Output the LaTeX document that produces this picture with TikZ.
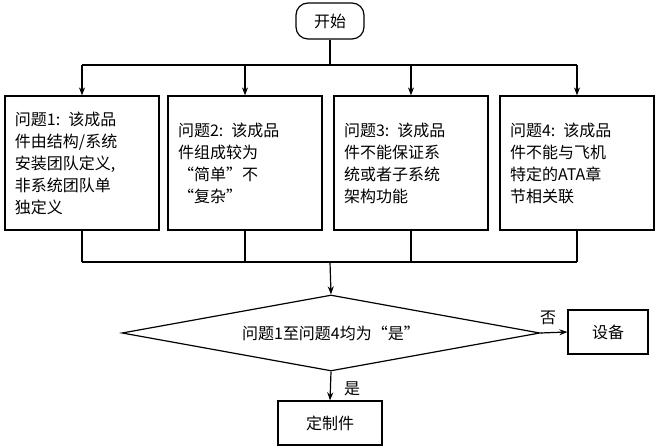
\documentclass[tikz,border=0pt]{standalone}
\usepackage{fontspec}
\setmainfont{Noto Sans CJK SC}
\usetikzlibrary{arrows.meta,shapes.geometric,positioning}

\begin{document}
\begin{tikzpicture}[
    x=0.5pt, y=-0.5pt,
    box/.style={rectangle, draw, semithick, minimum width=77pt, minimum height=67pt, align=left, font=\fontsize{8}{11}\selectfont, text width=67pt},
    smallbox/.style={rectangle, draw, semithick, minimum width=40pt, minimum height=22pt, font=\fontsize{8}{10}\selectfont},
    arrow/.style={-{Stealth[length=4pt,width=3pt]}, semithick},
    label/.style={font=\fontsize{8}{10}\selectfont}
]
    \useasboundingbox (0,0) rectangle (660,448);

    % Start
    \node[smallbox, rounded corners=6pt, minimum width=34pt, minimum height=18pt] (start) at (330,21) {开始};

    % Questions
    \node[box] (q1) at (82,163) {问题1: 该成品\\件由结构/系统\\安装团队定义,\\非系统团队单\\独定义};
    \node[box] (q2) at (245,163) {问题2: 该成品\\件组成较为\\“简单”不\\“复杂”};
    \node[box] (q3) at (411,163) {问题3: 该成品\\件不能保证系\\统或者子系统\\架构功能};
    \node[box] (q4) at (577,163) {问题4: 该成品\\件不能与飞机\\特定的ATA章\\节相关联};

    % Decision
    \node[diamond, draw, semithick, aspect=5.6, minimum width=209pt, minimum height=38pt, inner sep=0pt, font=\fontsize{8}{10}\selectfont] (dec) at (331,333) {问题1至问题4均为“是”};

    % Results
    \node[smallbox] (dev) at (608,332) {设备};
    \node[smallbox, minimum width=52pt] (cust) at (330,423) {定制件};

    % Arrows
    \coordinate (top) at (330,65);
    \coordinate (bot) at (330,262);
    \draw[semithick] (start) -- (top);
    \draw[semithick] (q1.north |- top) -- (q4.north |- top);
    \foreach \q in {q1,q2,q3,q4} {
        \draw[arrow] (\q.north |- top) -- (\q.north);
        \draw[semithick] (\q.south) -- (\q.south |- bot);
    }
    \draw[semithick] (q1.south |- bot) -- (q4.south |- bot);
    \draw[arrow] (bot) -- (dec.north);
    \draw[arrow] (dec.east) -- (dev.west);
    \draw[arrow] (dec.south) -- (cust.north);

    % Labels
    \node[label] at (548,318) {否};
    \node[label] at (352,389) {是};
\end{tikzpicture}
\end{document}
